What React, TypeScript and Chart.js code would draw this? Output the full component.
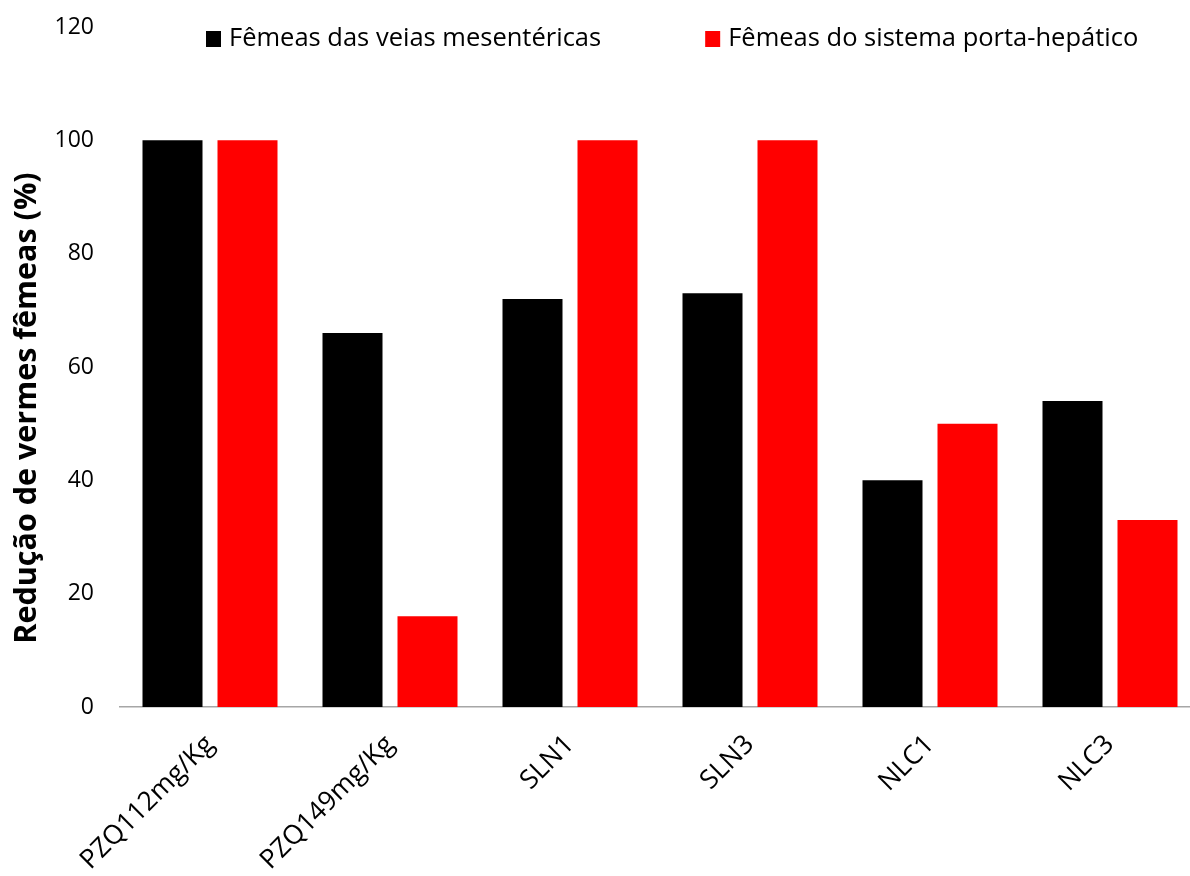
import React, { useEffect, useRef } from 'react';
import { Chart, registerables } from 'chart.js';

Chart.register(...registerables);

const categories = ['PZQ112mg/Kg', 'PZQ149mg/Kg', 'SLN1', 'SLN3', 'NLC1', 'NLC3'];
const seriesNames = ['Fêmeas das veias mesentéricas', 'Fêmeas do sistema porta-hepático'];
const mesentericas = [100, 66, 72, 73, 40, 54];
const portaHepatico = [100, 16, 100, 100, 50, 33];
const seriesColors = ['#000000', '#ff0000'];
const yMin = 0;
const yMax = 120;
const yStep = 20;
const yTitle = 'Redução de vermes fêmeas (%)';

const FONT = '"Open Sans", "Liberation Sans", sans-serif';

const legendPlugin = {
  id: 'customLegend',
  afterDraw(chart: any) {
    const ctx = chart.ctx;
    ctx.save();
    ctx.font = `25.5px ${FONT}`;
    ctx.textBaseline = 'middle';
    ctx.textAlign = 'left';
    const y = 39;
    let x = 206;
    chart.data.datasets.forEach((ds: any) => {
      ctx.fillStyle = ds.backgroundColor;
      ctx.fillRect(x, y - 8, 15, 16);
      ctx.fillStyle = '#000';
      ctx.fillText(ds.label, x + 23, y);
      x += 23 + ctx.measureText(ds.label).width + 104;
    });
    ctx.restore();
  },
};

const yTitlePlugin = {
  id: 'yTitle',
  afterDraw(chart: any) {
    const ctx = chart.ctx;
    ctx.save();
    ctx.font = `bold 30.5px ${FONT}`;
    ctx.fillStyle = '#000';
    ctx.textAlign = 'center';
    ctx.textBaseline = 'middle';
    ctx.translate(27, 408);
    ctx.rotate(-Math.PI / 2);
    ctx.fillText(yTitle, 0, 0);
    ctx.restore();
  },
};

export default function App() {
  const ref = useRef<HTMLCanvasElement | null>(null);

  useEffect(() => {
    if (!ref.current) return;
    const chart = new Chart(ref.current, {
      type: 'bar',
      data: {
        labels: categories,
        datasets: [
          { label: seriesNames[0], data: mesentericas, backgroundColor: seriesColors[0] },
          { label: seriesNames[1], data: portaHepatico, backgroundColor: seriesColors[1] },
        ],
      },
      plugins: [legendPlugin, yTitlePlugin],
      options: {
        responsive: false,
        animation: false,
        layout: { padding: { top: 27, left: 0, right: 0, bottom: 0 } },
        datasets: {
          bar: { categoryPercentage: 150 / 180, barPercentage: 0.8 },
        },
        plugins: {
          legend: { display: false },
          tooltip: { enabled: false },
        },
        scales: {
          x: {
            grid: { display: false, drawTicks: false },
            border: { display: true, color: '#a6a6a6', width: 1.5 },
            ticks: {
              minRotation: 45,
              maxRotation: 45,
              padding: 22,
              color: '#000',
              font: { family: FONT, size: 26.5 },
            },
            afterFit(scale: any) {
              scale.height = 169;
            },
          },
          y: {
            min: yMin,
            max: yMax,
            grid: { display: false, drawTicks: false },
            border: { display: false },
            ticks: {
              stepSize: yStep,
              padding: 26,
              color: '#000',
              font: { family: FONT, size: 23 },
            },
            afterFit(scale: any) {
              scale.width = 120;
              scale.paddingTop = 0;
              scale.paddingBottom = 0;
            },
          },
        },
      },
    });
    return () => chart.destroy();
  }, []);

  return (
    <div style={{ position: 'absolute', left: 0, top: 0, width: 1190, height: 876, overflow: 'hidden', background: '#fff' }}>
      <canvas ref={ref} width={1200} height={876} style={{ display: 'block', width: 1200, height: 876 }} />
    </div>
  );
}
